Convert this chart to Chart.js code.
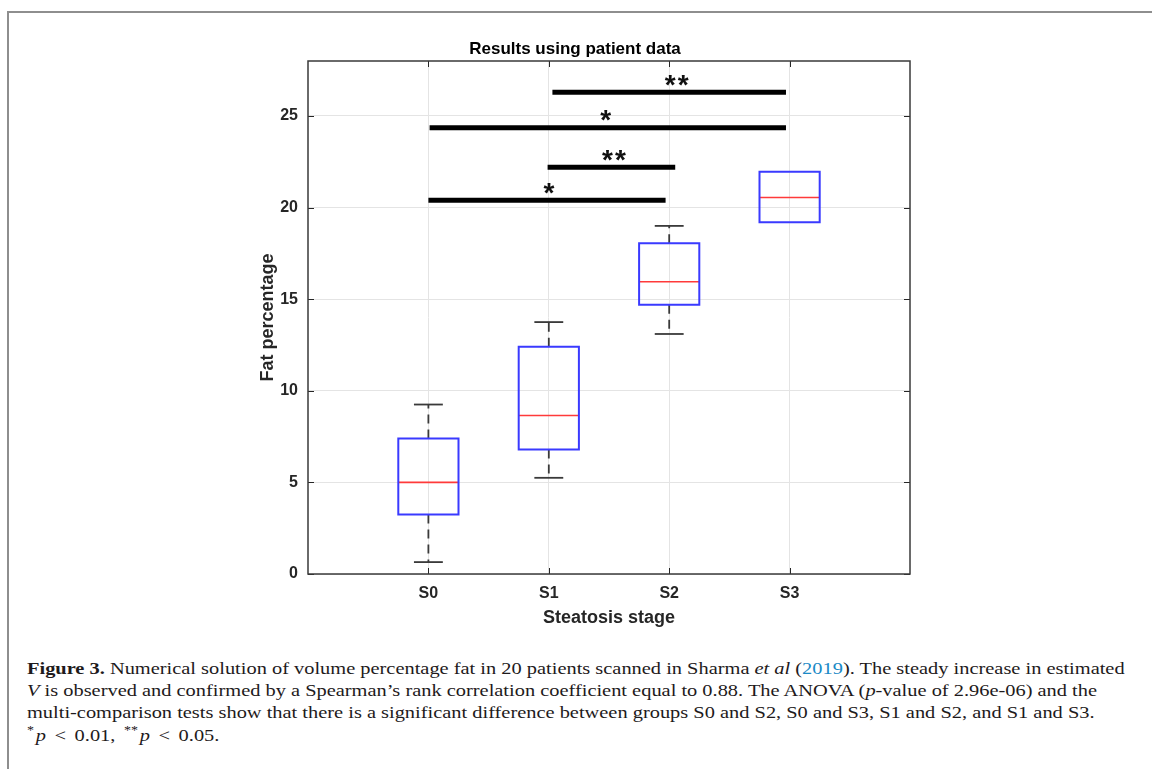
<!DOCTYPE html>
<html>
<head>
<meta charset="utf-8">
<title>Results using patient data</title>
<script src="https://cdn.jsdelivr.net/npm/chart.js@4.4.1/dist/chart.umd.min.js"></script>
<style>
    html, body { margin: 0; padding: 0; background: #fff; }
    body { width: 1152px; height: 769px; overflow: hidden; position: relative; }
    #frame {
        position: absolute; left: 7px; top: 11px; width: 1300px; height: 900px;
        border-left: 2px solid #8e8e8e; border-top: 2px solid #8e8e8e;
    }
    #wrap { position: absolute; left: 0; top: 0; width: 1152px; height: 650px; }
    #caption {
        position: absolute; left: 27px; top: 657px;
        font-family: 'Liberation Serif', 'Times New Roman', serif;
        font-size: 17.5px; color: #1e1a1b;
    }
    .ln { white-space: nowrap; height: 22.2px; line-height: 22.2px; transform-origin: left center; }
    .ref { color: #1a8ac6; }
    .math { word-spacing: 3px; }
    sup { font-size: 12px; line-height: 0; }
</style>
</head>
<body>
<div id="frame"></div>
<div id="wrap"><canvas id="boxChart"></canvas></div>
<div id="caption">
    <div class="ln"><b>Figure 3.</b> Numerical solution of volume percentage fat in 20 patients scanned in Sharma <i>et al</i> (<span class="ref">2019</span>). The steady increase in estimated</div>
    <div class="ln"><i>V</i> is observed and confirmed by a Spearman’s rank correlation coefficient equal to 0.88. The ANOVA (<i>p</i>-value of 2.96e-06) and the</div>
    <div class="ln">multi-comparison tests show that there is a significant difference between groups S0 and S2, S0 and S3, S1 and S2, and S1 and S3.</div>
    <div class="ln math"><sup>*</sup>&#8202;<i>p</i> &lt; 0.01, <sup>**</sup>&#8202;<i>p</i> &lt; 0.05.</div>
</div>
<script>
// steatosis stages and their box statistics (fat percentage)
const categories  = ['S0', 'S1', 'S2', 'S3'];
const catPos      = [1, 2, 3, 4];
const whiskerLow  = [0.65, 5.25, 13.1, 19.2];
const q1          = [3.25, 6.8, 14.7, 19.2];
const median      = [5.0, 8.65, 15.95, 20.55];
const q3          = [7.4, 12.4, 18.05, 21.95];
const whiskerHigh = [9.25, 13.75, 19.0, 21.95];
const yTicks      = [0, 5, 10, 15, 20, 25];

// pairwise comparison bars
const sigStart  = [2.03, 1.01, 1.99, 1.0];
const sigEnd    = [3.97, 3.97, 3.05, 2.97];
const sigLevel  = [26.3, 24.35, 22.2, 20.4];
const sigMarkX  = [3.07, 2.48, 2.55, 2.01];
const sigMarks  = ['**', '*', '**', '*'];

const FONT = '"Liberation Sans", Arial, Helvetica, sans-serif';
const AXIS = '#262626';
const HALF_BOX = 0.25;
const HALF_CAP = 0.12;

function seg(x0, y0, x1, y1) {
    return [{ x: x0, y: y0 }, { x: x1, y: y1 }];
}

function lineSet(data, color, width, extra) {
    return Object.assign({
        data: data,
        showLine: true,
        fill: false,
        tension: 0,
        pointRadius: 0,
        pointHoverRadius: 0,
        borderColor: color,
        borderWidth: width,
        borderCapStyle: 'butt',
        borderJoinStyle: 'miter',
    }, extra || {});
}

const datasets = [];

catPos.forEach((cx, i) => {
    // whiskers, under the boxes
    if (whiskerHigh[i] > q3[i]) {
        datasets.push(lineSet(seg(cx, q3[i], cx, whiskerHigh[i]), '#3a3a3a', 1.8, { borderDash: [9, 6], order: 3 }));
        datasets.push(lineSet(seg(cx - HALF_CAP, whiskerHigh[i], cx + HALF_CAP, whiskerHigh[i]), '#3a3a3a', 1.8, { order: 3 }));
    }
    if (whiskerLow[i] < q1[i]) {
        datasets.push(lineSet(seg(cx, q1[i], cx, whiskerLow[i]), '#3a3a3a', 1.8, { borderDash: [9, 6], order: 3 }));
        datasets.push(lineSet(seg(cx - HALF_CAP, whiskerLow[i], cx + HALF_CAP, whiskerLow[i]), '#3a3a3a', 1.8, { order: 3 }));
    }
    // box outline
    const l = cx - HALF_BOX, r = cx + HALF_BOX;
    datasets.push(lineSet([
        { x: l, y: q1[i] }, { x: r, y: q1[i] }, { x: r, y: q3[i] },
        { x: l, y: q3[i] }, { x: l, y: q1[i] }, { x: r, y: q1[i] }
    ], '#3a3aff', 2, { order: 1 }));
    // median
    datasets.push(lineSet(seg(l, median[i], r, median[i]), '#ff3a3a', 1.7, { order: 1 }));
});

sigLevel.forEach((lv, i) => {
    datasets.push(lineSet(seg(sigStart[i], lv, sigEnd[i], lv), '#000000', 5, { order: 2 }));
});

// asterisks, inward ticks and the axes box
const axesDecor = {
    id: 'axesDecor',
    afterDatasetsDraw(chart) {
        const { ctx, chartArea: a, scales: { x, y } } = chart;
        ctx.save();

        ctx.fillStyle = '#111111';
        ctx.font = 'bold 28px ' + FONT;
        ctx.textAlign = 'center';
        ctx.textBaseline = 'alphabetic';
        ctx.letterSpacing = '2px';
        sigMarks.forEach((m, i) => {
            const px = x.getPixelForValue(sigMarkX[i]);
            const cy = y.getPixelForValue(sigLevel[i]) - 12;
            const tm = ctx.measureText(m);
            ctx.fillText(m, px, cy + (tm.actualBoundingBoxAscent - tm.actualBoundingBoxDescent) / 2);
        });
        ctx.letterSpacing = '0px';

        ctx.strokeStyle = AXIS;
        ctx.lineWidth = 1;
        ctx.beginPath();
        catPos.forEach(v => {
            const px = Math.round(x.getPixelForValue(v)) + 0.5;
            ctx.moveTo(px, a.bottom); ctx.lineTo(px, a.bottom - 6);
            ctx.moveTo(px, a.top); ctx.lineTo(px, a.top + 6);
        });
        yTicks.forEach(v => {
            const py = Math.round(y.getPixelForValue(v)) + 0.5;
            ctx.moveTo(a.left, py); ctx.lineTo(a.left + 6, py);
            ctx.moveTo(a.right, py); ctx.lineTo(a.right - 6, py);
        });
        ctx.stroke();

        ctx.strokeStyle = '#3a3a3a';
        ctx.lineWidth = 1.5;
        ctx.strokeRect(a.left, a.top, a.right - a.left, a.bottom - a.top);
        ctx.restore();
    }
};

Chart.defaults.font.family = FONT;

new Chart(document.getElementById('boxChart'), {
    type: 'scatter',
    data: { datasets: datasets },
    options: {
        responsive: true,
        maintainAspectRatio: false,
        animation: false,
        events: [],
        layout: { padding: { left: 240, right: 242, top: 0, bottom: 6 } },
        plugins: {
            legend: { display: false },
            tooltip: { enabled: false },
            title: {
                display: true,
                text: 'Results using patient data',
                color: '#000000',
                font: { size: 17, weight: 'bold' },
                padding: { top: 39, bottom: 1.6 }
            }
        },
        scales: {
            x: {
                type: 'linear',
                min: 0,
                max: 5,
                afterBuildTicks: (s) => { s.ticks = catPos.map(v => ({ value: v })); },
                afterFit: (s) => { s.height = 70; },
                ticks: {
                    autoSkip: false,
                    maxRotation: 0,
                    padding: 10,
                    color: AXIS,
                    font: { size: 16, weight: 'bold' },
                    callback: (v, i) => categories[i]
                },
                grid: { color: '#e4e4e4', lineWidth: 1, drawTicks: false },
                border: { display: false },
                title: {
                    display: true,
                    text: 'Steatosis stage',
                    color: AXIS,
                    font: { size: 18, weight: 'bold' },
                    padding: { top: 0, bottom: 15 }
                }
            },
            y: {
                type: 'linear',
                min: 0,
                max: 28,
                afterBuildTicks: (s) => { s.ticks = yTicks.map(v => ({ value: v })); },
                afterFit: (s) => { s.width = 68; },
                ticks: {
                    padding: 10,
                    color: AXIS,
                    font: { size: 16, weight: 'bold' }
                },
                grid: { color: '#e4e4e4', lineWidth: 1, drawTicks: false },
                border: { display: false },
                title: {
                    display: true,
                    text: 'Fat percentage',
                    color: AXIS,
                    font: { size: 18, weight: 'bold' },
                    padding: { top: 17, bottom: 0 }
                }
            }
        }
    },
    plugins: [axesDecor]
});

// stretch caption lines so the first one spans the text column
const lines = document.querySelectorAll('#caption .ln');
const k = 1098 / lines[0].scrollWidth;
lines.forEach(el => { el.style.transform = 'scaleX(' + k.toFixed(4) + ')'; });
</script>
</body>
</html>
